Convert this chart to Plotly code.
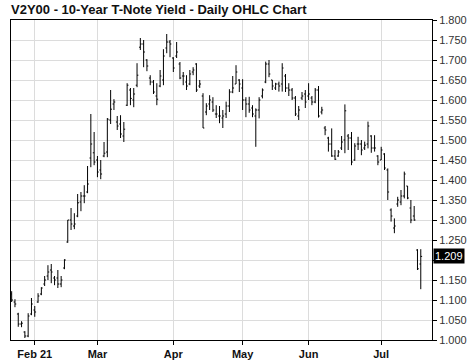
import pandas as pd
import plotly.graph_objects as go

# Trading days (US market holidays removed)
holidays = ["2021-02-15", "2021-04-02", "2021-05-31", "2021-07-05"]
dates = [d.strftime("%Y-%m-%d") for d in
         pd.bdate_range("2021-01-21", "2021-07-20", freq="C", holidays=holidays)]

open_ = [1.115, 1.095, 1.065, 1.040, 1.020, 1.010, 1.065,
         1.075, 1.095, 1.115, 1.140, 1.160, 1.175, 1.155, 1.155, 1.140, 1.180,
         1.245, 1.300, 1.285, 1.310, 1.345, 1.360, 1.370, 1.455, 1.468,
         1.450, 1.425, 1.460, 1.470, 1.550, 1.590, 1.545, 1.540, 1.510, 1.587,
         1.625, 1.600, 1.637, 1.732, 1.740, 1.700, 1.655, 1.645, 1.610, 1.635,
         1.650, 1.730, 1.745,
         1.705, 1.710, 1.690, 1.660, 1.645, 1.640, 1.670, 1.690, 1.635, 1.610,
         1.570, 1.590, 1.595, 1.565, 1.560, 1.555, 1.565, 1.585, 1.620, 1.640,
         1.650,
         1.630, 1.600, 1.590, 1.580, 1.560, 1.575, 1.610, 1.645, 1.690, 1.650,
         1.630, 1.640, 1.640, 1.660, 1.630, 1.625, 1.605, 1.560, 1.605, 1.615,
         1.610, 1.605, 1.595, 1.625, 1.570, 1.530, 1.505, 1.490, 1.460, 1.460,
         1.480, 1.500, 1.510, 1.505, 1.450, 1.490, 1.490, 1.480, 1.490, 1.510,
         1.480, 1.460,
         1.450, 1.465, 1.425, 1.325, 1.280, 1.340, 1.345, 1.360, 1.385, 1.330,
         1.310, 1.225, 1.190]
high = [1.122, 1.102, 1.068, 1.047, 1.022, 1.067, 1.105,
        1.085, 1.117, 1.132, 1.160, 1.187, 1.190, 1.160, 1.175, 1.160, 1.202,
        1.300, 1.330, 1.317, 1.365, 1.370, 1.387, 1.435, 1.565, 1.520,
        1.460, 1.450, 1.495, 1.555, 1.625, 1.602, 1.560, 1.562, 1.545, 1.642,
        1.630, 1.630, 1.692, 1.755, 1.750, 1.702, 1.662, 1.650, 1.642, 1.675,
        1.727, 1.765, 1.750,
        1.707, 1.745, 1.695, 1.670, 1.662, 1.675, 1.682, 1.692, 1.650, 1.617,
        1.592, 1.612, 1.607, 1.587, 1.585, 1.575, 1.596, 1.627, 1.660, 1.687,
        1.652,
        1.652, 1.607, 1.608, 1.587, 1.579, 1.607, 1.629, 1.696, 1.700, 1.650,
        1.643, 1.646, 1.692, 1.665, 1.642, 1.630, 1.610, 1.585, 1.620, 1.625,
        1.642, 1.610, 1.630, 1.635, 1.583, 1.535, 1.508, 1.529, 1.475, 1.475,
        1.510, 1.589, 1.515, 1.520, 1.492, 1.508, 1.500, 1.496, 1.546, 1.512,
        1.512, 1.462,
        1.483, 1.467, 1.429, 1.329, 1.304, 1.358, 1.375, 1.421, 1.385, 1.350,
        1.335, 1.227, 1.227]
low = [1.095, 1.082, 1.033, 1.032, 1.005, 1.007, 1.062,
       1.058, 1.093, 1.112, 1.135, 1.150, 1.142, 1.137, 1.130, 1.132, 1.177,
       1.243, 1.275, 1.277, 1.307, 1.322, 1.342, 1.367, 1.432, 1.437,
       1.407, 1.402, 1.457, 1.457, 1.540, 1.575, 1.525, 1.505, 1.495, 1.585,
       1.587, 1.582, 1.632, 1.725, 1.682, 1.672, 1.637, 1.615, 1.587, 1.632,
       1.637, 1.717, 1.707,
       1.670, 1.705, 1.652, 1.637, 1.625, 1.637, 1.662, 1.620, 1.630, 1.530,
       1.562, 1.575, 1.570, 1.555, 1.542, 1.530, 1.555, 1.570, 1.617, 1.640,
       1.620,
       1.575, 1.557, 1.568, 1.557, 1.483, 1.554, 1.604, 1.642, 1.657, 1.625,
       1.625, 1.621, 1.621, 1.620, 1.610, 1.600, 1.560, 1.550, 1.600, 1.580,
       1.600, 1.587, 1.592, 1.556, 1.564, 1.512, 1.471, 1.458, 1.450, 1.458,
       1.475, 1.467, 1.475, 1.437, 1.448, 1.475, 1.462, 1.475, 1.479, 1.468,
       1.471, 1.437,
       1.450, 1.425, 1.350, 1.296, 1.267, 1.333, 1.337, 1.354, 1.352, 1.292,
       1.298, 1.175, 1.127]
close = [1.100, 1.090, 1.040, 1.042, 1.010, 1.060, 1.090,
         1.070, 1.110, 1.130, 1.150, 1.170, 1.170, 1.150, 1.140, 1.150, 1.200,
         1.300, 1.290, 1.290, 1.343, 1.360, 1.360, 1.390, 1.490, 1.445,
         1.420, 1.415, 1.467, 1.552, 1.577, 1.595, 1.535, 1.515, 1.527, 1.637,
         1.604, 1.615, 1.662, 1.740, 1.720, 1.685, 1.645, 1.620, 1.602, 1.660,
         1.710, 1.745, 1.740,
         1.680, 1.720, 1.655, 1.660, 1.635, 1.665, 1.675, 1.625, 1.640, 1.530,
         1.585, 1.600, 1.575, 1.565, 1.560, 1.560, 1.585, 1.620, 1.630, 1.670,
         1.640,
         1.600, 1.590, 1.575, 1.565, 1.575, 1.600, 1.625, 1.690, 1.665, 1.635,
         1.640, 1.635, 1.680, 1.630, 1.625, 1.605, 1.565, 1.575, 1.610, 1.595,
         1.615, 1.595, 1.625, 1.560, 1.575, 1.525, 1.490, 1.460, 1.452, 1.470,
         1.495, 1.573, 1.505, 1.445, 1.485, 1.490, 1.475, 1.487, 1.535, 1.480,
         1.480, 1.445,
         1.475, 1.430, 1.370, 1.310, 1.285, 1.350, 1.360, 1.415, 1.355, 1.300,
         1.300, 1.178, 1.209]

month_ticks = ["2021-02-01", "2021-03-01", "2021-04-01", "2021-05-03", "2021-06-01", "2021-07-01"]
month_labels = ["Feb 21", "Mar", "Apr", "May", "Jun", "Jul"]
y_ticks = [round(1.0 + 0.05 * k, 3) for k in range(17)]
last_value = close[-1]
# the last-value box covers the nearest tick label, as in the reference
y_labels = ["" if abs(v - last_value) < 0.02 else f"{v:.3f}" for v in y_ticks]

fig = go.Figure(go.Ohlc(
    x=dates, open=open_, high=high, low=low, close=close,
    increasing=dict(line=dict(color="black", width=1)),
    decreasing=dict(line=dict(color="black", width=1)),
    tickwidth=0.4, hoverinfo="skip", showlegend=False,
))

fig.update_layout(
    width=474, height=361,
    margin=dict(l=11, r=42, t=20, b=21, autoexpand=False),
    paper_bgcolor="white", plot_bgcolor="white",
    font=dict(family="Liberation Sans, Arial, sans-serif", size=11, color="#222"),
    title=dict(text="<b>V2Y00 - 10-Year T-Note Yield - Daily OHLC Chart</b>",
               x=11 / 474, xref="container", xanchor="left",
               y=1 - 9 / 361, yref="container", yanchor="middle",
               font=dict(size=13, color="#111", family="Liberation Sans, Arial, sans-serif")),
    xaxis=dict(type="category", range=[-0.2, 127.4], automargin=False,
               rangeslider=dict(visible=False),
               tickmode="array", tickvals=month_ticks, ticktext=month_labels,
               showgrid=True, gridcolor="#dcdcdc", gridwidth=1,
               ticks="outside", ticklen=4, tickcolor="black",
               showline=True, linecolor="black", linewidth=1, mirror=True,
               tickfont=dict(size=11, color="#111", weight="bold"),
               fixedrange=True),
    yaxis=dict(side="right", range=[1.0, 1.8], tickmode="array", automargin=False,
               tickvals=y_ticks, ticktext=y_labels,
               showgrid=True, gridcolor="#dcdcdc", gridwidth=1,
               ticks="outside", ticklen=4, tickcolor="black",
               showline=True, linecolor="black", linewidth=1, mirror=True,
               tickfont=dict(size=11, color="#333"), zeroline=False,
               fixedrange=True),
    hovermode=False,
    annotations=[dict(xref="paper", x=1, xanchor="left", xshift=1,
                      yref="y", y=last_value, yanchor="middle",
                      text=f"{last_value:.3f}", showarrow=False,
                      bgcolor="black", borderpad=1,
                      font=dict(size=11, color="white"))],
)

# remove the browser's default page margin so the figure sits at the window's corner
fig.write_html("out.html", config={"displayModeBar": False},
               post_script="document.body.style.margin='0';document.body.style.overflow='hidden';")
